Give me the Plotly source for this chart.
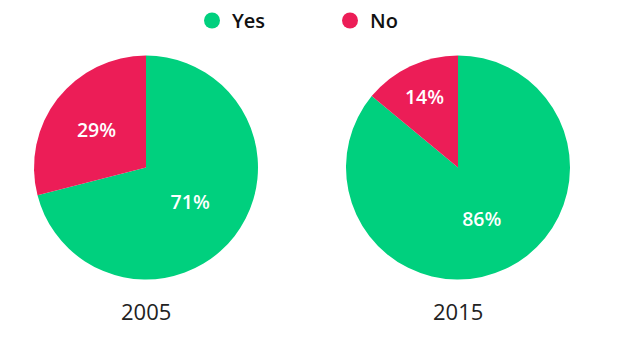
import plotly.graph_objects as go

categories = ["Yes", "No"]
years = ["2005", "2015"]
values_2005 = [71, 29]
values_2015 = [86, 14]
colors = ["#00D07E", "#EC1D57"]

W, H = 630, 343
fig = go.Figure()

domains = [([34/W, 258/W]), ([346/W, 570/W])]
ydom = [1 - 280/H, 1 - 55/H]
for vals, dom, yr in zip([values_2005, values_2015], domains, years):
    fig.add_trace(go.Pie(
        labels=categories, values=vals, sort=False, direction="clockwise",
        rotation=0, marker=dict(colors=colors, line=dict(width=0)),
        texttemplate="%{value}%", textposition="inside",
        insidetextorientation="horizontal",
        textfont=dict(family="Open Sans", size=19.5, color="white", weight=600),
        domain=dict(x=dom, y=ydom), showlegend=False, hoverinfo="label+value",
    ))
    fig.add_annotation(text=yr, x=(dom[0] + dom[1]) / 2, y=1 - 311/H,
                       xref="paper", yref="paper", xanchor="center", yanchor="middle",
                       showarrow=False,
                       font=dict(family="Open Sans", size=22, color="#222"))

for cat, col in zip(categories, colors):
    fig.add_trace(go.Scatter(x=[None], y=[None], mode="markers", name=cat,
                             marker=dict(symbol="circle", size=16, color=col)))

fig.update_layout(
    width=W, height=H, margin=dict(l=0, r=0, t=0, b=0),
    paper_bgcolor="white", plot_bgcolor="white",
    xaxis=dict(visible=False), yaxis=dict(visible=False),
    legend=dict(orientation="h", x=192/W, xanchor="left", y=1 - 1/H, yanchor="top",
                font=dict(family="Open Sans", size=20, color="#111", weight=600),
                entrywidth=93, itemsizing="trace"),
)
fig.write_html("out.html")
